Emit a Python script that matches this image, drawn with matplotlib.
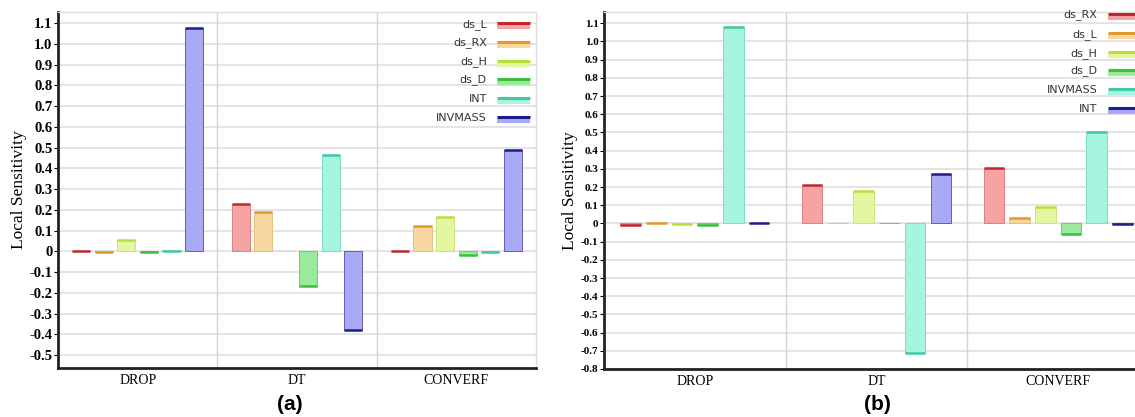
import numpy as np
import matplotlib
matplotlib.use('Agg')
import matplotlib.pyplot as plt

# categorias del eje x
categorias = ['DROP', 'DT', 'CONVERF']

# panel (a)
series_a = ['ds_L', 'ds_RX', 'ds_H', 'ds_D', 'INT', 'INVMASS']
a_ds_L = [0.003, 0.228, 0.003]
a_ds_RX = [-0.004, 0.190, 0.124]
a_ds_H = [0.055, 0.0, 0.167]
a_ds_D = [-0.003, -0.167, -0.019]
a_INT = [0.002, 0.464, -0.002]
a_INVMASS = [1.075, -0.379, 0.488]

# panel (b)
series_b = ['ds_RX', 'ds_L', 'ds_H', 'ds_D', 'INVMASS', 'INT']
b_ds_RX = [-0.008, 0.211, 0.305]
b_ds_L = [0.004, 0.0, 0.028]
b_ds_H = [-0.003, 0.176, 0.092]
b_ds_D = [-0.010, 0.0, -0.057]
b_INVMASS = [1.077, -0.712, 0.503]
b_INT = [0.002, 0.273, -0.005]

yticks_a = np.round(np.arange(-0.5, 1.11, 0.1), 1)
yticks_b = np.round(np.arange(-0.8, 1.11, 0.1), 1)

# colores: relleno, borde, linea superior
relleno = ['#f5a3a3', '#f9d7a0', '#e4f7a0', '#9bea9b', '#a6f5de', '#a9a9f5']
borde = ['#dc8080', '#e8c080', '#cce480', '#70cc70', '#80dcc4', '#6060b0']
tope = ['#c0282d', '#e09a30', '#b5e03c', '#3cc03c', '#40c8a8', '#1c1c8c']

SERIF = 'Liberation Serif'


def etiqueta_tick(v):
    if abs(v) < 1e-9:
        return '0'
    return f'{v:.1f}'


def dibujar_panel(ax, nombres, valores, yticks, ylim, fs_tick, fs_ylab,
                  leg_xtxt, leg_x0, leg_x1, leg_y):
    n = len(nombres)
    x = np.arange(len(categorias))
    slot = 0.85 / n
    ancho = slot * 0.8
    for i, vals in enumerate(valores):
        pos = x - 0.425 + slot * (i + 0.5)
        vals = np.array(vals)
        ax.bar(pos, vals, width=ancho, color=relleno[i], edgecolor=borde[i],
               linewidth=0.7, zorder=3)
        m = vals != 0
        ax.hlines(vals[m], pos[m] - ancho / 2, pos[m] + ancho / 2,
                  color=tope[i], linewidth=1.8, zorder=4)

    ax.set_xlim(-0.5, len(categorias) - 0.5)
    ax.set_ylim(*ylim)
    ax.set_yticks(yticks)
    ax.set_yticklabels([etiqueta_tick(v) for v in yticks],
                       fontfamily=SERIF, fontweight='bold', fontsize=fs_tick)
    ax.set_xticks(x)
    ax.set_xticklabels(categorias, fontfamily=SERIF, fontsize=10)
    ax.tick_params(axis='x', length=0, pad=4)
    ax.tick_params(axis='y', length=3, width=0.8, pad=1)

    # rejilla
    for v in yticks:
        ax.axhline(v, color='#e2e2e2', linewidth=1.3, zorder=1)
    for s in np.arange(0.5, len(categorias) - 0.5, 1.0):
        ax.axvline(s, color='#d4d4d4', linewidth=1.0, zorder=1)

    for lado in ['left', 'bottom']:
        ax.spines[lado].set_linewidth(2)
        ax.spines[lado].set_color('#222222')
    for lado in ['top', 'right']:
        ax.spines[lado].set_linewidth(1)
        ax.spines[lado].set_color('#dcdcdc')

    ax.set_ylabel('Local Sensitivity', fontfamily=SERIF, fontsize=fs_ylab,
                  labelpad=2)

    # leyenda dibujada a mano
    for i, nombre in enumerate(nombres):
        y = leg_y[i]
        ax.text(leg_xtxt, y, nombre, transform=ax.transAxes, ha='right',
                va='center', fontsize=8, color='#333333', zorder=6)
        ax.plot([leg_x0, leg_x1], [y - 0.008, y - 0.008], transform=ax.transAxes,
                color=relleno[i], linewidth=3, solid_capstyle='butt', zorder=6,
                clip_on=False)
        ax.plot([leg_x0, leg_x1], [y + 0.002, y + 0.002], transform=ax.transAxes,
                color=tope[i], linewidth=2.2, solid_capstyle='butt', zorder=7,
                clip_on=False)


fig = plt.figure(figsize=(11.35, 4.17), dpi=100)
ax_a = fig.add_axes([58 / 1135, 49 / 417, 478 / 1135, 356 / 417])
ax_b = fig.add_axes([604 / 1135, 48 / 417, 545 / 1135, 357 / 417])

dibujar_panel(ax_a, series_a,
              [a_ds_L, a_ds_RX, a_ds_H, a_ds_D, a_INT, a_INVMASS],
              yticks_a, (-0.562, 1.153), 10.5, 12.5,
              0.897, 0.918, 0.987,
              [0.966, 0.913, 0.860, 0.809, 0.756, 0.702])

dibujar_panel(ax_b, series_b,
              [b_ds_RX, b_ds_L, b_ds_H, b_ds_D, b_INVMASS, b_INT],
              yticks_b, (-0.80, 1.162), 8, 12.5,
              0.905, 0.925, 1.0,
              [0.992, 0.938, 0.885, 0.835, 0.782, 0.728])

fig.text(290 / 1135, 1 - 405 / 417, '(a)', ha='center', va='center',
         fontsize=15, fontweight='bold', fontfamily='Liberation Sans')
fig.text(877 / 1135, 1 - 405 / 417, '(b)', ha='center', va='center',
         fontsize=15, fontweight='bold', fontfamily='Liberation Sans')

fig.savefig('out.png', dpi=100)
